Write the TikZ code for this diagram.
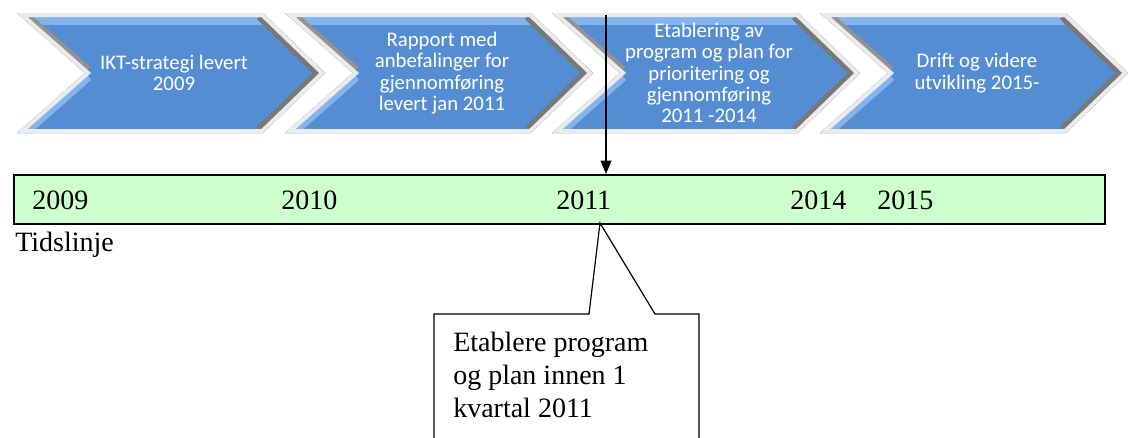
\documentclass[tikz,border=0pt]{standalone}
\usepackage{fontspec}
\setmainfont{Liberation Serif}
\newfontfamily\chevfont{Carlito}
\usetikzlibrary{arrows.meta, positioning, calc}
\definecolor{chevblue}{RGB}{85,141,211}
\definecolor{chevlight}{RGB}{132,180,238}
\definecolor{chevshade}{RGB}{120,120,120}
\definecolor{tlgreen}{RGB}{204,255,204}
% outline of one chevron, #1 is its left edge
\newcommand{\chevpath}[1]{(#1,13) -- ++(246,0) -- ++(62,60) -- ++(-62,60) -- ++(-246,0) -- ++(68,-60) -- cycle}
\tikzset{
  timeline/.style={
    x=0.75pt, y=-0.75pt, % one unit is one pixel of the reference
    >={Triangle[length=10pt,width=8pt]}, % filled arrow head
  },
  chevtext/.style={text=white, align=center, inner sep=0pt,
    font=\chevfont\fontsize{15.6}{16}\selectfont}, % white text in the arrows
  year/.style={anchor=base west, inner sep=0pt, font=\fontsize{21}{24}\selectfont},
  bar/.style={draw=black, line width=1.2pt, fill=tlgreen, inner sep=0pt,
    anchor=north west, minimum width=818.25pt, minimum height=36.75pt},
  notetext/.style={anchor=north west, inner sep=0pt, align=left,
    font=\fontsize{21}{24.75}\selectfont},
}

\begin{document}
\begin{tikzpicture}[timeline]
  \clip (0,0) rectangle (1130,437);

  % the four phases
  \foreach \x/\name/\txt in {17/c1/{IKT-strategi levert\\2009},
      285/c2/{Rapport med\\anbefalinger for\\gjennomføring\\levert jan 2011},
      552/c3/{Etablering av\\program og plan for\\prioritering og\\gjennomføring\\2011 -2014},
      820/c4/{Drift og videre\\utvikling 2015-}} {
    \begin{scope}
      \clip \chevpath{\x};
      \fill[chevblue] \chevpath{\x};
      \fill[chevlight] (\x,13) rectangle ++(310,12);
      \draw[chevlight, line width=14] (\x+68,73) -- (\x,133);
      \draw[chevshade!80, line width=12] (\x,13) -- (\x+68,73);
      \draw[chevshade, line width=13] (\x+246,13) -- (\x+308,73) -- (\x+246,133);
      \draw[chevshade!70, line width=5] (\x,133) -- (\x+246,133);
      \draw[white!92!black, line width=6] \chevpath{\x};
    \end{scope}
    \node[chevtext] (\name) at (\x+157,73) {\txt};
  }

  % the time line
  \node[bar] (bar) at (13,174) {};
  \node[year] (y2009) at (32,209) {2009};
  \node[year] (y2010) at (281,209) {2010};
  \node[year] (y2011) at (556,209) {2011};
  \node[year] (y2014) at (790,209) {2014};
  \node[year] (y2015) at (877,209) {2015};
  \node[year] (tl) at (15,251) {Tidslinje};

  \coordinate (arrtop) at (606,15);
  \draw[->, line width=1.1pt] (arrtop) -- (arrtop |- bar.north);

  % callout
  \coordinate (tip) at (600,223);
  \draw[fill=white, line width=0.9pt] (434,445) |- (589,314) -- (tip) -- (655,314) -| (699,445);
  \node[notetext] (note) at (453,332) {Etablere program\\og plan innen 1\\kvartal 2011};
\end{tikzpicture}
\end{document}
